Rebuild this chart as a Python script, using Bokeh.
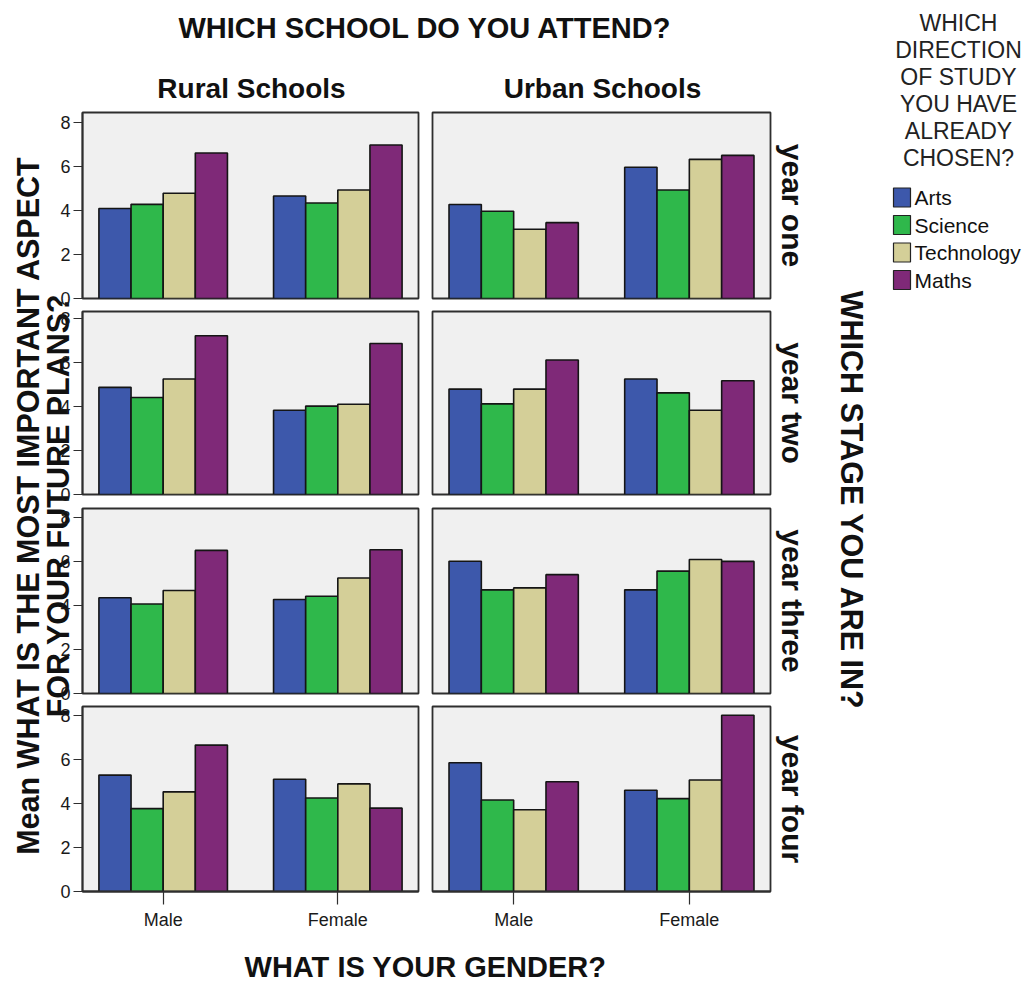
import math

from bokeh.core.properties import value
from bokeh.embed import file_html
from bokeh.models import ColumnDataSource, FactorRange, FixedTicker, Label, Range1d
from bokeh.plotting import figure
from bokeh.resources import INLINE
from bokeh.transform import dodge

# ---------------------------------------------------------------- data
genders = ["Male", "Female"]
schools = ["Rural Schools", "Urban Schools"]
stages = ["year one", "year two", "year three", "year four"]
directions = ["Arts", "Science", "Technology", "Maths"]
colors = ["#3d58ab", "#2fb84b", "#d4cf98", "#7f2978"]
y_ticks = [0, 2, 4, 6, 8]

# mean score, ordered by stage; inside each stage:
# rural male, rural female, urban male, urban female
arts = [4.08, 4.65, 4.26, 5.95,
        4.86, 3.82, 4.78, 5.24,
        4.34, 4.26, 6.00, 4.70,
        5.28, 5.09, 5.84, 4.59]
science = [4.27, 4.33, 3.96, 4.92,
           4.40, 4.01, 4.11, 4.61,
           4.06, 4.41, 4.70, 5.55,
           3.76, 4.24, 4.15, 4.21]
technology = [4.77, 4.92, 3.14, 6.31,
              5.24, 4.09, 4.78, 3.82,
              4.67, 5.24, 4.79, 6.08,
              4.52, 4.88, 3.71, 5.06]
maths = [6.60, 6.96, 3.44, 6.49,
         7.20, 6.85, 6.10, 5.16,
         6.49, 6.52, 5.39, 5.99,
         6.64, 3.78, 4.98, 7.99]
series = [arts, science, technology, maths]

title_text = "WHICH SCHOOL DO YOU ATTEND?"
x_title = "WHAT IS YOUR GENDER?"
y_title = ["Mean WHAT IS THE MOST IMPORTANT ASPECT", "FOR YOUR FUTURE PLANS?"]
row_title = "WHICH STAGE YOU ARE IN?"
legend_title = ["WHICH", "DIRECTION", "OF STUDY", "YOU HAVE", "ALREADY", "CHOSEN?"]

# ---------------------------------------------------------------- layout
W, H = 1028, 983
FONT = "Liberation Sans"
PX_PER_UNIT = 22.05
col_x = [(82, 418), (432, 770)]
row_y = [(112, 298), (311, 494), (508, 693), (706, 891)]
BAR_W = 0.184
offsets = [-1.5 * BAR_W, -0.5 * BAR_W, 0.5 * BAR_W, 1.5 * BAR_W]
EDGE = "#2e2e2e"
# every canvas covers the whole page; the panels are transparent outside their frames
STACKED = {"position": "absolute", "left": "0px", "top": "0px"}


def make_panel(r, c):
    x0, x1 = col_x[c]
    y0, y1 = row_y[r]
    p = figure(
        width=W, height=H, title=None,
        x_range=FactorRange(factors=genders, range_padding=-0.038,
                            range_padding_units="absolute"),
        y_range=Range1d(0, (y1 - y0) / PX_PER_UNIT),
        output_backend="svg", toolbar_location=None, tools="",
        x_axis_location="below" if r == len(stages) - 1 else None,
        y_axis_location="left" if c == 0 else None,
        min_border_left=x0, min_border_right=W - x1,
        min_border_top=y0, min_border_bottom=H - y1,
        background_fill_color="#f0f0f0", border_fill_color=None,
        outline_line_color=EDGE, outline_line_width=1.8,
        styles=STACKED,
    )
    p.grid.visible = False

    idx = r * 4 + c * 2
    data = {"gender": genders}
    for name, vals in zip(directions, series):
        data[name] = vals[idx:idx + 2]
    src = ColumnDataSource(data)
    for k, name in enumerate(directions):
        p.vbar(x=dodge("gender", offsets[k], range=p.x_range), top=name,
               width=BAR_W, bottom=0, source=src,
               fill_color=colors[k], line_color="#151515", line_width=1.6)

    if c == 0:
        ax = p.yaxis[0]
        ax.ticker = FixedTicker(ticks=y_ticks)
        ax.major_tick_out = 9
        ax.major_tick_in = 0
        ax.minor_tick_out = 0
        ax.minor_tick_in = 0
        ax.axis_line_color = EDGE
        ax.axis_line_width = 1.8
        ax.major_tick_line_color = EDGE
        ax.major_tick_line_width = 1.2
        ax.major_label_text_font = FONT
        ax.major_label_text_font_size = "18px"
        ax.major_label_text_color = "#1a1a1a"
        ax.major_label_standoff = 3
    if r == len(stages) - 1:
        ax = p.xaxis[0]
        ax.major_tick_out = 13
        ax.major_tick_in = 0
        ax.axis_line_color = EDGE
        ax.axis_line_width = 1.8
        ax.major_tick_line_color = EDGE
        ax.major_tick_line_width = 1.2
        ax.major_label_text_font = FONT
        ax.major_label_text_font_size = "18px"
        ax.major_label_text_color = "#1a1a1a"
        ax.major_label_standoff = 5
    return p


# ---------------------------------------------------------------- titles and legend
deco = figure(
    width=W, height=H, title=None,
    x_range=Range1d(0, W), y_range=Range1d(H, 0),
    output_backend="svg", toolbar_location=None, tools="",
    x_axis_location=None, y_axis_location=None,
    min_border=0, outline_line_color=None,
    background_fill_color="white", border_fill_color="white",
    styles=STACKED,
)
deco.grid.visible = False


def add_label(x, y, text, size, bold=True, angle=0.0, align="center", color="#111111"):
    deco.add_layout(Label(
        x=x, y=y, text=text, angle=angle, text_align=align, text_baseline="middle",
        text_font=FONT, text_font_size=size, text_font_style="bold" if bold else "normal",
        text_color=color,
    ))


BIG = "29px"
add_label(425, 27, title_text, BIG)
for c, name in enumerate(schools):
    add_label((col_x[c][0] + col_x[c][1]) / 2 + 1, 88, name, "28px")
add_label(425, 966, x_title, BIG)
add_label(27, 505, y_title[0], "30.5px", angle=math.pi / 2)
add_label(57, 505, y_title[1], "30.5px", angle=math.pi / 2)
for r, name in enumerate(stages):
    add_label(792, (row_y[r][0] + row_y[r][1]) / 2, name, "30px", angle=-math.pi / 2)
add_label(851, 500, row_title, "30.5px", angle=-math.pi / 2)

for i, line in enumerate(legend_title):
    add_label(958, 22 + 27 * i, line, "23px", bold=False, color="#222222")

leg = ColumnDataSource({
    "name": directions,
    "color": colors,
    "y": [197 + 27.5 * i for i in range(len(directions))],
})
deco.rect(x=901.5, y="y", width=17, height=19, fill_color="color",
          line_color="#222222", line_width=1.2, source=leg)
deco.text(x=914, y="y", text="name", source=leg, text_font=value(FONT),
          text_font_size="21px", text_baseline="middle", text_align="left",
          text_color="#111111")

panels = [make_panel(r, c) for r in range(len(stages)) for c in range(len(schools))]

# separate roots so that no layout aligns the frames of the stacked canvases
with open("out.html", "w") as f:
    f.write(file_html([deco] + panels, INLINE))
